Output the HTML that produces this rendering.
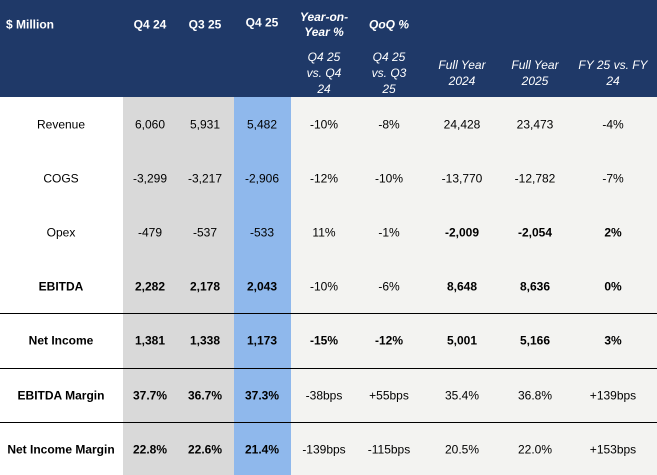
<!DOCTYPE html>
<html><head><style>
body{margin:0;width:657px;height:475px;position:relative;overflow:hidden;background:#fff;font-family:"Liberation Sans",Arial,sans-serif;font-size:12px;color:#000}
.bg{position:absolute}
.t{position:absolute;transform:translate(-50%,-50%);white-space:nowrap;text-align:center;line-height:15px}
.h{color:#fff;font-weight:bold}
.i{color:#fff;font-style:italic}
.b{font-weight:bold}
.l{position:absolute;left:0;width:657px;height:1px;background:#000}
</style></head><body>
<div class="bg" style="left:0;top:0;width:657px;height:97px;background:#1f3968"></div>
<div class="bg" style="left:123px;top:97px;width:111px;height:378px;background:#d9d9d9"></div>
<div class="bg" style="left:234px;top:97px;width:57px;height:378px;background:#8fb8ec"></div>
<div class="bg" style="left:291px;top:97px;width:366px;height:378px;background:#f3f3f1"></div>
<div class="l" style="top:313px"></div>
<div class="l" style="top:368px"></div>
<div class="l" style="top:422px"></div>

<div class="t h" style="left:6px;top:25px;transform:translateY(-50%)">$ Million</div>
<div class="t h" style="left:150px;top:25px">Q4 24</div>
<div class="t h" style="left:205px;top:25px">Q3 25</div>
<div class="t h" style="left:262px;top:23px">Q4 25</div>
<div class="t h" style="left:324px;top:25px;font-style:italic">Year-on-<br>Year %</div>
<div class="t h" style="left:389px;top:25px;font-style:italic">QoQ %</div>
<div class="t i" style="left:324px;top:73px;line-height:16px">Q4 25<br>vs. Q4<br>24</div>
<div class="t i" style="left:389px;top:73px;line-height:16px">Q4 25<br>vs. Q3<br>25</div>
<div class="t i" style="left:462px;top:73px;line-height:16px">Full Year<br>2024</div>
<div class="t i" style="left:535px;top:73px;line-height:16px">Full Year<br>2025</div>
<div class="t i" style="left:613px;top:73px;line-height:16px">FY 25 vs. FY<br>24</div>

<!-- rows -->
<div class="t" style="left:61px;top:125px">Revenue</div>
<div class="t" style="left:150px;top:125px">6,060</div><div class="t" style="left:205px;top:125px">5,931</div><div class="t" style="left:262px;top:125px">5,482</div>
<div class="t" style="left:324px;top:125px">-10%</div><div class="t" style="left:389px;top:125px">-8%</div><div class="t" style="left:462px;top:125px">24,428</div><div class="t" style="left:535px;top:125px">23,473</div><div class="t" style="left:613px;top:125px">-4%</div>

<div class="t" style="left:61px;top:179px">COGS</div>
<div class="t" style="left:150px;top:179px">-3,299</div><div class="t" style="left:205px;top:179px">-3,217</div><div class="t" style="left:262px;top:179px">-2,906</div>
<div class="t" style="left:324px;top:179px">-12%</div><div class="t" style="left:389px;top:179px">-10%</div><div class="t" style="left:462px;top:179px">-13,770</div><div class="t" style="left:535px;top:179px">-12,782</div><div class="t" style="left:613px;top:179px">-7%</div>

<div class="t" style="left:61px;top:233px">Opex</div>
<div class="t" style="left:150px;top:233px">-479</div><div class="t" style="left:205px;top:233px">-537</div><div class="t" style="left:262px;top:233px">-533</div>
<div class="t" style="left:324px;top:233px">11%</div><div class="t" style="left:389px;top:233px">-1%</div><div class="t b" style="left:462px;top:233px">-2,009</div><div class="t b" style="left:535px;top:233px">-2,054</div><div class="t b" style="left:613px;top:233px">2%</div>

<div class="t b" style="left:61px;top:287px">EBITDA</div>
<div class="t b" style="left:150px;top:287px">2,282</div><div class="t b" style="left:205px;top:287px">2,178</div><div class="t b" style="left:262px;top:287px">2,043</div>
<div class="t" style="left:324px;top:287px">-10%</div><div class="t" style="left:389px;top:287px">-6%</div><div class="t b" style="left:462px;top:287px">8,648</div><div class="t b" style="left:535px;top:287px">8,636</div><div class="t b" style="left:613px;top:287px">0%</div>

<div class="t b" style="left:61px;top:341px">Net Income</div>
<div class="t b" style="left:150px;top:341px">1,381</div><div class="t b" style="left:205px;top:341px">1,338</div><div class="t b" style="left:262px;top:341px">1,173</div>
<div class="t b" style="left:324px;top:341px">-15%</div><div class="t b" style="left:389px;top:341px">-12%</div><div class="t b" style="left:462px;top:341px">5,001</div><div class="t b" style="left:535px;top:341px">5,166</div><div class="t b" style="left:613px;top:341px">3%</div>

<div class="t b" style="left:61px;top:396px">EBITDA Margin</div>
<div class="t b" style="left:150px;top:396px">37.7%</div><div class="t b" style="left:205px;top:396px">36.7%</div><div class="t b" style="left:262px;top:396px">37.3%</div>
<div class="t" style="left:324px;top:396px">-38bps</div><div class="t" style="left:389px;top:396px">+55bps</div><div class="t" style="left:462px;top:396px">35.4%</div><div class="t" style="left:535px;top:396px">36.8%</div><div class="t" style="left:613px;top:396px">+139bps</div>

<div class="t b" style="left:61px;top:450px">Net Income Margin</div>
<div class="t b" style="left:150px;top:450px">22.8%</div><div class="t b" style="left:205px;top:450px">22.6%</div><div class="t b" style="left:262px;top:450px">21.4%</div>
<div class="t" style="left:324px;top:450px">-139bps</div><div class="t" style="left:389px;top:450px">-115bps</div><div class="t" style="left:462px;top:450px">20.5%</div><div class="t" style="left:535px;top:450px">22.0%</div><div class="t" style="left:613px;top:450px">+153bps</div>
</body></html>
